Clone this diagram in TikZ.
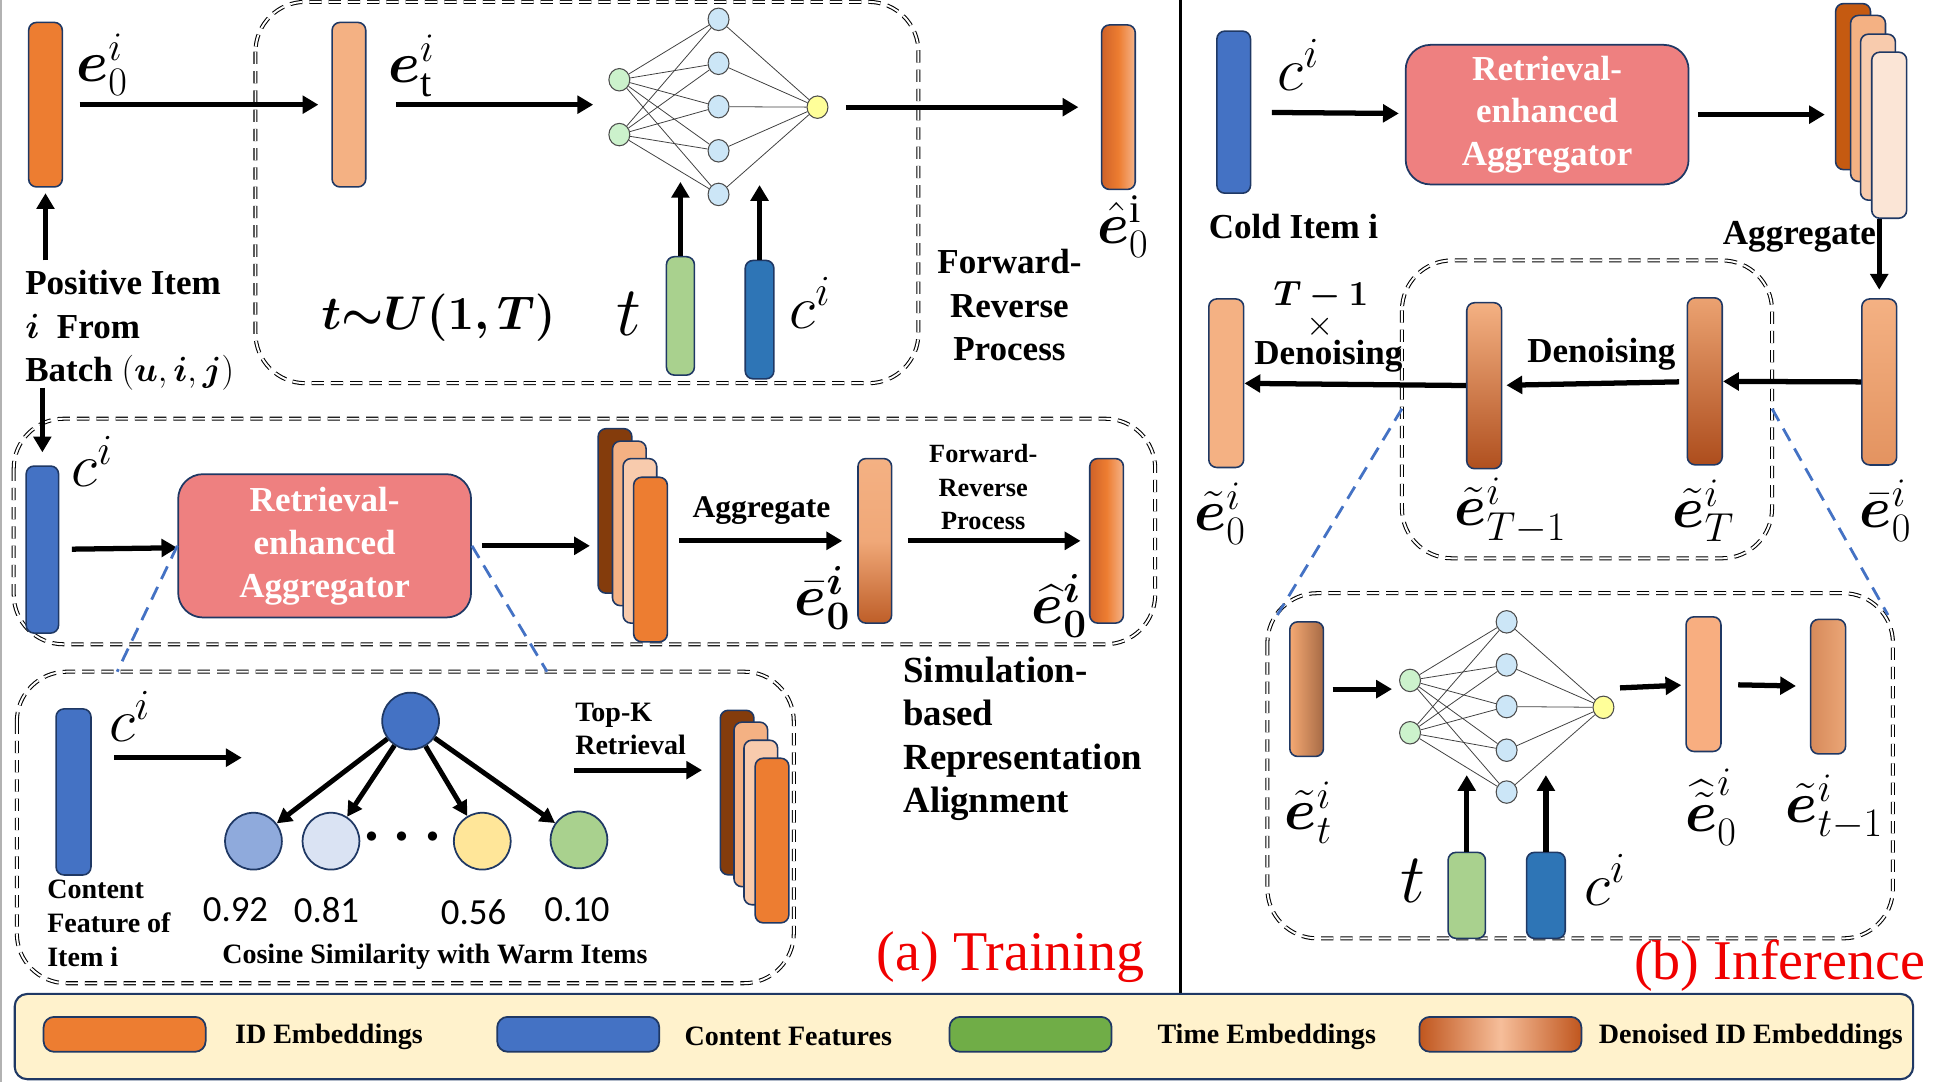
\RequirePackage{fix-cm}
\documentclass[tikz,border=0pt]{standalone}
\usepackage{amsmath}
\usepackage{bm}
\usepackage{fontspec}
\setmainfont{Liberation Serif}
\setsansfont{Carlito}
\usetikzlibrary{arrows.meta,shapes.geometric}
\definecolor{navy}{HTML}{1F3864}
\definecolor{idorange}{HTML}{ED7D31}
\definecolor{lorange}{HTML}{F4B183}
\definecolor{peach}{HTML}{F8CBAD}
\definecolor{pale}{HTML}{FBE5D6}
\definecolor{dbrown}{HTML}{843C0C}
\definecolor{rust}{HTML}{C55A11}
\definecolor{cblue}{HTML}{4472C4}
\definecolor{dblue}{HTML}{2E75B6}
\definecolor{tgreen}{HTML}{A9D18E}
\definecolor{lgreen}{HTML}{70AD47}
\definecolor{coral}{HTML}{EE8080}
\definecolor{cream}{HTML}{FFF2CC}
\definecolor{nngreen}{HTML}{CCF2CC}
\definecolor{nnblue}{HTML}{CCE6F7}
\definecolor{nnyellow}{HTML}{FFFF99}
\definecolor{hatl}{HTML}{CF6229}
\definecolor{hatr}{HTML}{F5B48A}
\definecolor{redtitle}{HTML}{F00000}

\begin{document}
\begin{tikzpicture}[x=0.025cm,y=-0.025cm,
    bar/.style={draw=navy,line width=0.9pt,rounded corners=4.5pt,minimum width=0.675cm,inner sep=0pt},
    lab/.style={font=\fontsize{33}{36}\selectfont},
    clab/.style={font=\fontsize{35}{38}\selectfont},
    tlab/.style={font=\fontsize{40}{44}\selectfont},
    txt/.style={font=\fontsize{20}{24.8}\selectfont\bfseries,align=center},
    stxt/.style={font=\fontsize{16}{19.2}\selectfont\bfseries,align=left},
    arr/.style={-{Triangle[length=9pt,width=10pt]},line width=3pt},
    tarr/.style={-{Triangle[length=8.5pt,width=9pt]},line width=2.8pt},
    nedge/.style={draw=black!75,line width=0.45pt},
    nin/.style={ellipse,draw=black!70,line width=0.6pt,fill=nngreen,minimum width=0.42cm,minimum height=0.45cm,inner sep=0pt},
    nhid/.style={nin,fill=nnblue},
    nout/.style={nin,fill=nnyellow},
    leaf/.style={circle,draw=navy,line width=1pt,minimum size=1.14cm,inner sep=0pt},
    dbox/.style={draw=black,line width=0.6pt,double,double distance=1.1pt,dash pattern=on 7pt off 4pt,rounded corners=1cm},
    zoomln/.style={draw=cblue,line width=1.6pt,dash pattern=on 8pt off 5pt},
    rea/.style={draw=navy,line width=1pt,fill=coral,rounded corners=0.5cm,text=white,align=center,font=\fontsize{20}{24.5}\selectfont\bfseries},
    swatch/.style={draw=navy,line width=1pt,rounded corners=6pt,minimum width=3.25cm,minimum height=0.7cm},
    title/.style={font=\fontsize{32}{36}\selectfont,text=redtitle}]
  \useasboundingbox (0,0) rectangle (1568,868);
  \draw[gray!60,line width=1pt] (1,0) -- (1,868);
  \draw[line width=1.6pt] (947,0) -- (947,797);

  \draw[dbox] (205,1.5) rectangle (737,307.5);
  \draw[dbox] (11,336) rectangle (927,517);
  \draw[dbox] (13.5,539) rectangle (637,789);
  \draw[dbox] (1125,209) rectangle (1422,448);
  \draw[dbox] (1017,476) rectangle (1519,753);

  % (a) training, forward-reverse process
  \node[bar,fill=idorange,minimum height=3.3cm] (e0) at (36.5,84) {};
  \node[lab] at (82,52) {$\bm{e}_0^{i}$};
  \node[bar,fill=lorange,minimum height=3.3cm] (et) at (280,84) {};
  \node[lab] at (330,53) {$\bm{e}_{\mathrm{t}}^{i}$};
  \node[nin] (a1) at (497,64) {};
  \node[nin] (a2) at (497,108) {};
  \node[nhid] (h1) at (576.6,15.5) {};
  \node[nhid] (h2) at (576.6,50.8) {};
  \node[nhid] (h3) at (576.6,85.6) {};
  \node[nhid] (h4) at (576.6,121) {};
  \node[nhid] (h5) at (576.6,156) {};
  \node[nout] (o1) at (656,86) {};
  \coordinate (nl1) at (476,84);
  \node[bar,left color=hatl,right color=hatr,middle color=idorange,minimum height=3.3cm] (eh0) at (897.5,86) {};
  \node[lab] at (901,182) {$\hat{\bm{e}}_0^{\mathrm{i}}$};
  \node[font=\fontsize{27}{30}\selectfont] at (352,255) {$\bm{t{\sim}U(1,T)}$};
  \node[tlab] at (505,252) {$t$};
  \node[bar,fill=tgreen,minimum width=0.56cm,minimum height=2.375cm] (tb1) at (546,253.5) {};
  \node[bar,fill=dblue,minimum width=0.575cm,minimum height=2.375cm] (cb1) at (609.5,256.5) {};
  \node[clab] at (650,243) {$c^{i}$};
  \coordinate (ti1) at (546,146);
  \coordinate (ci1) at (609.5,148.5);
  \node[txt] at (810,245) {Forward-\\Reverse\\Process};
  \node[txt,align=left] (pos) at (104,265) {Positive Item\\$\bm{i}$\ \ From\\Batch $(\bm{u},\bm{i},\bm{j})$};
  \coordinate (pu) at (36.5,209);
  \coordinate (pd) at (34,311);

  \path[nedge] (a1) edge (h1) edge (h2) edge (h3) edge (h4) edge (h5)
    (a2) edge (h1) edge (h2) edge (h3) edge (h4) edge (h5)
    (o1) edge (h1) edge (h2) edge (h3) edge (h4) edge (h5);
  \draw[arr,shorten <=0.33cm,shorten >=0.26cm] (e0) -- (et);
  \draw[arr,shorten <=0.59cm] (et) -- (nl1);
  \draw[arr,shorten <=0.35cm,shorten >=0.45cm] (o1) -- (eh0);
  \draw[arr] (tb1) -- (ti1);
  \draw[arr] (cb1) -- (ci1);
  \draw[arr,shorten >=0.11cm] (pu) -- (e0);

  % (a) training, simulation-based alignment
  \node[bar,fill=cblue,minimum width=0.65cm,minimum height=3.35cm] (cm) at (34,441) {};
  \node[clab] at (74,370) {$c^{i}$};
  \node[rea,minimum width=5.875cm,minimum height=2.875cm] (rea1) at (260.5,438) {Retrieval-\\enhanced\\Aggregator};
  \node[bar,fill=dbrown,minimum height=3.3cm] (s1a) at (493.5,410) {};
  \node[bar,fill=lorange,minimum height=3.3cm] (s1b) at (505,420) {};
  \node[bar,fill=peach,minimum height=3.3cm] (s1c) at (513.5,434) {};
  \node[bar,fill=idorange,minimum height=3.3cm] (s1d) at (522,449) {};
  \node[font=\fontsize{18}{22}\selectfont\bfseries] at (611,410) {Aggregate};
  \node[bar,top color=lorange,bottom color={rgb,255:red,190;green,94;blue,40},middle color={rgb,255:red,240;green,168;blue,120},minimum height=3.3cm] (eb1) at (702,434) {};
  \node[lab] at (660,480) {$\bar{\bm{e}}_{\bm{0}}^{\bm{i}}$};
  \node[font=\fontsize{15}{19.1}\selectfont\bfseries,align=center] at (789,391) {Forward-\\Reverse\\Process};
  \node[bar,left color=hatl,right color=hatr,middle color=idorange,minimum height=3.3cm] (eh1) at (888,434) {};
  \node[lab] at (850,486) {$\widehat{\bm{e}}_{\bm{0}}^{\bm{i}}$};

  \draw[arr,shorten >=0.26cm] (pd) -- (cm);
  \draw[arr,shorten <=0.25cm] (cm) -- (rea1);
  \draw[arr,shorten <=0.2cm,shorten >=0.15cm] (rea1.east) -- (rea1.east -| s1a.west);
  \draw[arr,shorten <=0.22cm,shorten >=0.3cm] (s1d.east |- eb1) -- (eb1);
  \draw[arr,shorten <=0.31cm,shorten >=0.17cm] (eb1) -- (eh1);

  % (a) training, retrieval
  \node[bar,fill=cblue,minimum width=0.7cm,minimum height=3.33cm] (cb) at (59,635.5) {};
  \node[clab] at (104,575) {$c^{i}$};
  \coordinate (tr) at (194,608);
  \node[leaf,fill=cblue] (root) at (329.5,578.6) {};
  \node[leaf,fill={rgb,255:red,143;green,170;blue,220}] (k1) at (203.4,675) {};
  \node[leaf,fill={rgb,255:red,218;green,227;blue,243}] (k2) at (265.6,675) {};
  \node[leaf,fill={rgb,255:red,255;green,230;blue,153}] (k3) at (387,675) {};
  \node[leaf,fill=tgreen] (k4) at (464.6,674) {};
  \node[font=\fontsize{34}{36}\selectfont] at (327.5,672) {$\bm{\cdots}$};
  \node[font=\sffamily\fontsize{21}{24}\selectfont] (v1) at (189,730) {0.92};
  \node[font=\sffamily\fontsize{21}{24}\selectfont] (v2) at (262,730) {0.81};
  \node[font=\sffamily\fontsize{21}{24}\selectfont] (v3) at (380,732) {0.56};
  \node[font=\sffamily\fontsize{21}{24}\selectfont] (v4) at (463,730) {0.10};
  \node[stxt] at (506,585) {Top-K\\Retrieval};
  \coordinate (kt) at (460.6,618);
  \node[bar,fill=dbrown,minimum height=3.3cm] (s2a) at (591.5,636) {};
  \node[bar,fill=lorange,minimum height=3.3cm] (s2b) at (602.5,645.5) {};
  \node[bar,fill=peach,minimum height=3.3cm] (s2c) at (610.5,660) {};
  \node[bar,fill=idorange,minimum height=3.3cm] (s2d) at (619.5,674.5) {};
  \node[stxt,anchor=west] at (33,741) {Content\\Feature of\\Item i};
  \node[stxt] at (349,768) {Cosine Similarity with Warm Items};
  \node[txt,align=left,anchor=west,font=\fontsize{21}{24.8}\selectfont\bfseries] at (720,593) {Simulation-\\based\\Representation\\Alignment};
  \node[title] at (811,768) {(a) Training};

  \draw[arr,shorten <=0.45cm] (cb.east |- tr) -- (tr);
  \draw[tarr] (root) -- (k1);
  \draw[tarr] (root) -- (k2);
  \draw[tarr] (root) -- (k3);
  \draw[tarr] (root) -- (k4);
  \draw[arr,shorten >=0.35cm] (kt) -- (kt -| s2a.west);
  \coordinate (zl) at (94,539);
  \coordinate (zr) at (439,539);
  \draw[zoomln] (rea1.west) -- (zl);
  \draw[zoomln] (rea1.east) -- (zr);

  % (b) inference
  \node[bar,fill=cblue,minimum height=3.25cm] (cc) at (990,90) {};
  \node[clab] at (1042,52) {$c^{i}$};
  \node[txt] at (1038,182) {Cold Item i};
  \node[rea,minimum width=5.675cm,minimum height=2.8cm] (rea2) at (1241.5,92) {Retrieval-\\enhanced\\Aggregator};
  \node[bar,fill=rust,minimum width=0.7cm,minimum height=3.33cm] (s3a) at (1487,69.5) {};
  \node[bar,fill=lorange,minimum width=0.7cm,minimum height=3.33cm] (s3b) at (1499,79) {};
  \node[bar,fill=peach,minimum width=0.7cm,minimum height=3.33cm] (s3c) at (1507,94) {};
  \node[bar,fill=pale,minimum width=0.7cm,minimum height=3.33cm] (s3d) at (1516,108.5) {};
  \node[txt] at (1444,190) {Aggregate};
  \node[bar,top color=lorange,middle color=lorange,bottom color={rgb,255:red,227;green,147;blue,96},minimum width=0.7cm,minimum height=3.33cm] (eb2) at (1508,306.5) {};
  \node[lab] at (1513,410) {$\bar{\bm{e}}_0^{i}$};
  \node[bar,top color={rgb,255:red,235;green,162;blue,113},middle color={rgb,255:red,194;green,101;blue,47},bottom color={rgb,255:red,173;green,77;blue,29},minimum width=0.7cm,minimum height=3.35cm] (eT) at (1368,306) {};
  \node[lab] at (1367,410) {$\tilde{\bm{e}}_T^{i}$};
  \node[txt] at (1285,284) {Denoising};
  \node[bar,top color=lorange,middle color={rgb,255:red,218;green,141;blue,92},bottom color={rgb,255:red,176;green,80;blue,31},minimum width=0.7cm,minimum height=3.33cm] (eT1) at (1191,309.5) {};
  \node[lab] at (1212,410) {$\tilde{\bm{e}}_{T-1}^{i}$};
  \node[txt] at (1060,237) {$\bm{T-1}$};
  \node[txt,font=\fontsize{20}{24}\selectfont] at (1059,262) {$\times$};
  \node[txt] at (1066,286) {Denoising};
  \node[bar,fill=lorange,minimum width=0.7cm,minimum height=3.38cm] (e0t) at (984,307.5) {};
  \node[lab] at (979,412) {$\tilde{\bm{e}}_0^{i}$};
  \node[title] at (1428,775) {(b) Inference};

  \draw[arr,shorten <=0.41cm,shorten >=0.12cm] (cc) -- (rea2);
  \draw[arr,shorten <=0.17cm,shorten >=0.2cm] (rea2.east) -- (rea2.east -| s3a.west);
  \draw[arr,shorten >=0.17cm] (eb2 |- s3d.south) -- (eb2);
  \draw[arr] (eb2) -- (eT);
  \draw[arr,shorten <=0.15cm,shorten >=0.08cm] (eT) -- (eT1);
  \draw[arr] (eT1) -- (e0t);

  % (b) inference, one denoising step
  \node[bar,left color={rgb,255:red,245;green,169;blue,115},right color={rgb,255:red,166;green,106;blue,69},minimum height=2.7cm] (etb) at (1048.5,553) {};
  \node[lab] at (1050,652) {$\tilde{\bm{e}}_t^{i}$};
  \coordinate (nl2) at (1117,553);
  \node[nin] (b1) at (1131.5,546) {};
  \node[nin] (b2) at (1131.5,588) {};
  \node[nhid] (g1) at (1209,499) {};
  \node[nhid] (g2) at (1209,533.6) {};
  \node[nhid] (g3) at (1209,567) {};
  \node[nhid] (g4) at (1209,602) {};
  \node[nhid] (g5) at (1209,635.6) {};
  \node[nout] (o2) at (1286.7,567.6) {};
  \coordinate (nr2) at (1300,552);
  \node[bar,fill={rgb,255:red,248;green,174;blue,128},minimum width=0.7cm,minimum height=2.7cm] (eh2) at (1367,549) {};
  \node[lab] at (1373,648) {$\widehat{\tilde{\bm{e}}}_0^{i}$};
  \node[bar,left color={rgb,255:red,214;green,138;blue,90},right color={rgb,255:red,235;green,166;blue,119},minimum width=0.7cm,minimum height=2.7cm] (et1) at (1467,551) {};
  \node[lab] at (1472,648) {$\tilde{\bm{e}}_{t-1}^{i}$};
  \node[bar,fill=tgreen,minimum width=0.75cm,minimum height=1.725cm] (tb2) at (1177,718.5) {};
  \node[bar,fill=dblue,minimum width=0.775cm,minimum height=1.725cm] (cb2) at (1240.5,718.5) {};
  \node[tlab] at (1134,707) {$t$};
  \node[clab] at (1288,706) {$c^{i}$};
  \coordinate (ti2) at (1177,622);
  \coordinate (ci2) at (1240.5,622);

  \path[nedge] (b1) edge (g1) edge (g2) edge (g3) edge (g4) edge (g5)
    (b2) edge (g1) edge (g2) edge (g3) edge (g4) edge (g5)
    (o2) edge (g1) edge (g2) edge (g3) edge (g4) edge (g5);
  \draw[arr,shorten <=0.17cm] (etb) -- (nl2);
  \draw[arr,shorten >=0.08cm] (nr2) -- (eh2);
  \draw[arr,shorten <=0.33cm,shorten >=0.28cm] (eh2) -- (et1);
  \draw[arr] (tb2) -- (ti2);
  \draw[arr] (cb2) -- (ci2);
  \coordinate (zl2) at (1125,328);
  \coordinate (zr2) at (1422,328);
  \coordinate (zl3) at (1025,493.5);
  \coordinate (zr3) at (1515,493.5);
  \draw[zoomln] (zl2) -- (zl3);
  \draw[zoomln] (zr2) -- (zr3);

  % legend
  \node[draw=navy,line width=1.2pt,fill=cream,rounded corners=0.25cm,minimum width=38.075cm,minimum height=1.71cm] (lg) at (773.5,831.8) {};
  \node[swatch,fill=idorange] (l1) at (100,830) {};
  \node[swatch,fill=cblue] (l2) at (464,830) {};
  \node[swatch,fill=lgreen] (l3) at (827,830) {};
  \node[swatch,left color={rgb,255:red,192;green,86;blue,30},right color={rgb,255:red,192;green,86;blue,30},middle color={rgb,255:red,246;green,190;blue,154}] (l4) at (1204,830) {};
  \node[stxt] at (264,832) {ID Embeddings};
  \node[stxt] at (632.5,832) {Content Features};
  \node[stxt] at (1016.5,832) {Time Embeddings};
  \node[stxt] at (1405,832) {Denoised ID Embeddings};
\end{tikzpicture}
\end{document}
